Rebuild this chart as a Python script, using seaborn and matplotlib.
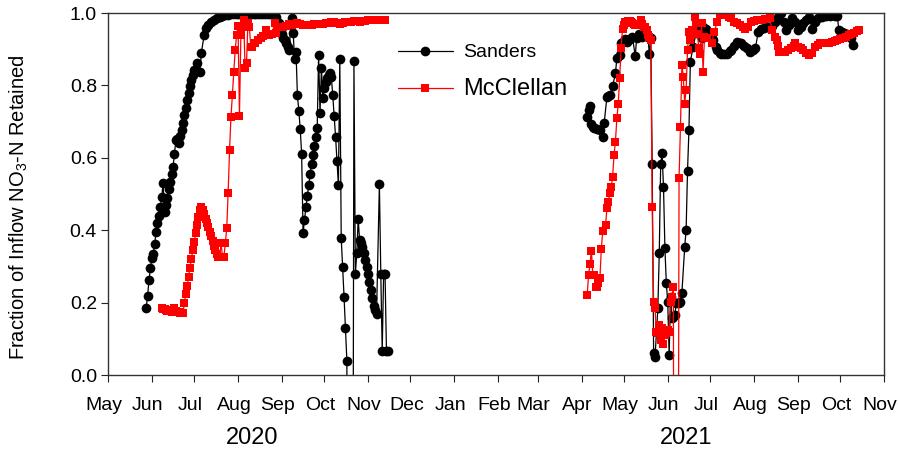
import numpy as np
import pandas as pd
import matplotlib
matplotlib.use("Agg")
import matplotlib.pyplot as plt
import matplotlib.dates as mdates
import matplotlib.transforms as mtrans
import seaborn as sns
from matplotlib.lines import Line2D
from matplotlib.transforms import blended_transform_factory

sns.set_theme(style="ticks")
plt.rcParams["font.family"] = ["Liberation Sans", "DejaVu Sans"]
plt.rcParams["mathtext.default"] = "regular"

# ---------------- data (day of year, fraction retained) ----------------
sanders_2020_doy = [149, 150, 151, 152, 153, 154, 155, 156, 157, 158, 159, 160, 161, 162, 163, 164,
                    165, 166, 167, 168, 169, 170, 171, 172, 173, 174, 175, 176, 177, 178, 179, 180,
                    181, 182, 183, 185, 187, 188, 190, 191, 193, 195, 197, 199, 201, 203, 205, 207,
                    209, 211, 213, 215, 217, 219, 221, 223, 225, 227, 229, 231, 233, 235, 237, 239,
                    241, 243, 244, 245, 246, 247, 248, 249, 250, 252, 253, 254, 255, 256, 257, 258,
                    259, 260, 261, 262, 263, 264, 265, 266, 267, 268, 269, 270, 271, 272, 273, 274,
                    275, 276, 277, 278, 279, 280, 281, 282, 283, 284, 285, 286, 287, 288, 289, 290,
                    291, 292, 294, 296, 297, 298, 299, 300, 301, 302, 303, 304, 305, 306, 307, 308,
                    309, 310, 311, 312, 314, 315, 316, 317, 318, 319, 320]
sanders_2020_val = [0.185, 0.218, 0.262, 0.295, 0.323, 0.334, 0.361, 0.395, 0.419, 0.439, 0.464, 0.492,
                    0.530, 0.450, 0.470, 0.489, 0.513, 0.534, 0.555, 0.575, 0.610, 0.649, 0.653, 0.641,
                    0.659, 0.677, 0.697, 0.718, 0.737, 0.760, 0.778, 0.797, 0.815, 0.829, 0.843, 0.861,
                    0.838, 0.889, 0.939, 0.958, 0.967, 0.975, 0.981, 0.986, 0.990, 0.992, 0.994, 0.995,
                    0.996, 0.997, 0.997, 0.997, 0.997, 0.997, 0.998, 0.998, 0.998, 0.998, 0.998, 0.998,
                    0.997, 0.997, 0.996, 0.994, 0.990, 0.971, 0.955, 0.943, 0.930, 0.925, 0.916, 0.905,
                    0.898, 0.985, 0.946, 0.872, 0.893, 0.773, 0.730, 0.679, 0.610, 0.392, 0.428, 0.463,
                    0.494, 0.525, 0.555, 0.583, 0.608, 0.633, 0.658, 0.682, 0.884, 0.725, 0.848, 0.765,
                    0.793, 0.810, 0.820, 0.829, 0.835, 0.824, 0.773, 0.715, 0.658, 0.591, 0.525, 0.872,
                    0.378, 0.299, 0.216, 0.130, 0.039, -3.0, -3.0, 0.867, 0.279, 0.336, 0.431, 0.373,
                    0.364, 0.354, 0.336, 0.318, 0.299, 0.279, 0.258, 0.235, 0.214, 0.191, 0.180, 0.168,
                    0.527, 0.279, 0.067, 0.279, 0.279, 0.067, 0.067]

sanders_2021_doy = [95, 96, 97, 98, 99, 100, 102, 104, 106, 107, 109, 110, 111, 113, 115, 116, 118, 119,
                    120, 122, 123, 124, 125, 127, 129, 130, 132, 134, 136, 138, 139, 140, 141, 142,
                    143, 145, 146, 147, 148, 149, 150, 151, 152, 153, 154, 155, 156, 157, 158, 160,
                    161, 162, 164, 165, 166, 167, 168, 170, 172, 174, 175, 176, 177, 179, 181, 183,
                    184, 186, 187, 189, 190, 192, 194, 196, 197, 199, 201, 203, 204, 206, 208, 210,
                    212, 214, 216, 218, 220, 222, 224, 226, 228, 230, 232, 234, 236, 238, 240, 242,
                    244, 246, 248, 250, 252, 254, 256, 258, 261, 264, 267, 270, 272, 273, 275, 277,
                    279, 281, 282, 283]
sanders_2021_val = [0.712, 0.733, 0.743, 0.693, 0.686, 0.682, 0.679, 0.677, 0.658, 0.695, 0.769, 0.772,
                    0.773, 0.798, 0.833, 0.875, 0.884, 0.916, 0.921, 0.927, 0.921, 0.925, 0.927, 0.935,
                    0.881, 0.930, 0.943, 0.934, 0.940, 0.935, 0.886, 0.930, 0.582, 0.062, 0.049, 0.184,
                    0.336, 0.582, 0.612, 0.520, 0.350, 0.253, 0.202, 0.055, 0.216, 0.157, 0.161, 0.166,
                    0.198, 0.198, 0.202, 0.226, 0.354, 0.401, 0.564, 0.677, 0.866, 0.907, 0.944, 0.953,
                    0.967, 0.930, 0.962, 0.955, 0.948, 0.930, 0.925, 0.905, 0.898, 0.890, 0.888, 0.888,
                    0.888, 0.895, 0.898, 0.910, 0.921, 0.918, 0.916, 0.910, 0.903, 0.893, 0.898, 0.902,
                    0.948, 0.957, 0.958, 0.960, 0.960, 0.965, 0.975, 0.990, 0.999, 0.976, 0.953, 0.967,
                    0.985, 0.976, 0.953, 0.962, 0.971, 0.980, 0.990, 0.957, 0.975, 0.985, 0.990, 0.992,
                    0.992, 0.992, 0.992, 0.953, 0.948, 0.945, 0.943, 0.935, 0.930, 0.912]

mcclellan_2020_doy = [160, 161, 162, 163, 164, 165, 166, 167, 168, 169, 170, 171, 172, 173, 174, 175,
                      176, 177, 178, 179, 180, 181, 182, 183, 184, 185, 186, 187, 188, 189, 190, 191,
                      192, 193, 194, 195, 196, 197, 198, 199, 200, 201, 202, 203, 204, 205, 206, 207,
                      208, 209, 210, 211, 212, 213, 214, 215, 216, 217, 218, 219, 220, 221, 222, 223,
                      224, 226, 228, 230, 232, 234, 235, 236, 238, 240, 241, 242, 244, 246, 248, 250,
                      252, 254, 256, 258, 260, 262, 264, 266, 268, 270, 272, 274, 276, 278, 280, 282,
                      284, 286, 288, 290, 292, 294, 296, 298, 300, 302, 304, 306, 308, 310, 312, 314,
                      316, 318]
mcclellan_2020_val = [0.184, 0.182, 0.181, 0.180, 0.178, 0.177, 0.176, 0.175, 0.180, 0.184, 0.178, 0.175,
                      0.173, 0.171, 0.170, 0.170, 0.198, 0.224, 0.246, 0.272, 0.296, 0.320, 0.345, 0.368,
                      0.391, 0.414, 0.437, 0.455, 0.465, 0.456, 0.445, 0.432, 0.420, 0.408, 0.396, 0.383,
                      0.370, 0.357, 0.345, 0.335, 0.327, 0.327, 0.364, 0.327, 0.327, 0.364, 0.405, 0.504,
                      0.622, 0.714, 0.773, 0.838, 0.898, 0.939, 0.964, 0.715, 0.939, 0.962, 0.982, 0.847,
                      0.863, 0.973, 0.962, 0.907, 0.905, 0.916, 0.925, 0.932, 0.936, 0.953, 0.938, 0.940,
                      0.943, 0.973, 0.945, 0.960, 0.962, 0.962, 0.965, 0.970, 0.968, 0.970, 0.971, 0.969,
                      0.968, 0.967, 0.967, 0.968, 0.969, 0.970, 0.970, 0.970, 0.971, 0.973, 0.976, 0.975,
                      0.972, 0.970, 0.972, 0.974, 0.975, 0.976, 0.977, 0.977, 0.976, 0.977, 0.978, 0.980,
                      0.980, 0.981, 0.981, 0.981, 0.981, 0.981]

mcclellan_2021_doy = [95, 96, 97, 98, 99, 100, 101, 102, 103, 104, 105, 106, 108, 109, 110, 111, 112,
                      113, 114, 115, 116, 117, 118, 119, 120, 121, 122, 123, 124, 125, 126, 127, 128,
                      129, 130, 131, 132, 133, 134, 135, 136, 137, 138, 139, 140, 141, 142, 143, 144,
                      145, 146, 147, 148, 149, 150, 151, 152, 153, 154, 155, 156, 157, 158, 160, 161,
                      162, 163, 164, 165, 166, 167, 168, 169, 171, 172, 173, 174, 175, 176, 177, 178,
                      180, 183, 185, 187, 189, 191, 193, 195, 197, 199, 201, 203, 205, 207, 209, 211,
                      213, 215, 217, 219, 221, 224, 226, 228, 229, 230, 231, 233, 235, 237, 239, 241,
                      242, 244, 246, 248, 250, 252, 254, 256, 258, 260, 262, 264, 266, 268, 270, 272,
                      274, 276, 278, 280, 282, 284, 286, 287]
mcclellan_2021_val = [0.221, 0.276, 0.307, 0.343, 0.276, 0.276, 0.242, 0.244, 0.255, 0.267, 0.347, 0.399,
                      0.414, 0.460, 0.479, 0.502, 0.520, 0.548, 0.608, 0.645, 0.709, 0.750, 0.821, 0.902,
                      0.957, 0.967, 0.975, 0.976, 0.978, 0.978, 0.975, 0.973, 0.970, 0.967, 0.967, 0.970,
                      0.970, 0.981, 0.970, 0.962, 0.960, 0.953, 0.940, 0.934, 0.925, 0.465, 0.202, 0.184,
                      0.120, 0.115, 0.138, 0.097, 0.129, 0.087, 0.110, 0.115, 0.124, 0.120, 0.202, 0.216,
                      0.244, -3.0, -3.0, 0.543, 0.686, 0.856, 0.824, 0.750, 0.787, 0.898, 0.948, 0.925,
                      0.953, 0.990, 0.971, 0.943, 0.902, 0.888, 0.971, 0.838, 0.934, 0.930, 0.916, 0.948,
                      0.976, 0.994, 0.994, 0.994, 0.988, 0.985, 0.976, 0.972, 0.967, 0.960, 0.957, 0.962,
                      0.976, 0.978, 0.981, 0.981, 0.981, 0.983, 0.985, 0.953, 0.935, 0.925, 0.910, 0.893,
                      0.893, 0.893, 0.897, 0.902, 0.910, 0.916, 0.907, 0.903, 0.898, 0.890, 0.884, 0.890,
                      0.907, 0.912, 0.916, 0.916, 0.916, 0.918, 0.921, 0.923, 0.925, 0.927, 0.930, 0.935,
                      0.939, 0.943, 0.946, 0.950, 0.953]

site_names = ["Sanders", "McClellan"]
year_labels = ["2020", "2021"]


def build(site, year, doy, val):
    dates = pd.to_datetime([f"{year}{int(d):03d}" for d in doy], format="%Y%j")
    return pd.DataFrame({"date": dates, "value": val, "site": site,
                         "segment": f"{site}-{year}"})


df = pd.concat([
    build("Sanders", 2020, sanders_2020_doy, sanders_2020_val),
    build("Sanders", 2021, sanders_2021_doy, sanders_2021_val),
    build("McClellan", 2020, mcclellan_2020_doy, mcclellan_2020_val),
    build("McClellan", 2021, mcclellan_2021_doy, mcclellan_2021_val),
], ignore_index=True)

# ---------------- figure ----------------
W, H = 898, 450
fig = plt.figure(figsize=(W / 100, H / 100), dpi=100)
ax = fig.add_axes([108 / W, 1 - 375 / H, 776 / W, 362 / H])

styles = {
    "Sanders": dict(color="black", marker="o", markersize=7.0, linewidth=0.9),
    "McClellan": dict(color="#ff0000", marker="s", markersize=5.3, linewidth=0.9),
}
for site in site_names:
    st = styles[site]
    sns.lineplot(data=df[df["site"] == site], x="date", y="value", units="segment",
                 estimator=None, ax=ax, legend=False, color=st["color"],
                 marker=st["marker"], markersize=st["markersize"],
                 markeredgewidth=0, linewidth=st["linewidth"])

ax.set_xlim(pd.Timestamp("2020-05-01"), pd.Timestamp("2021-11-01"))
ax.set_ylim(0, 1.0)
ax.xaxis.set_major_locator(mdates.MonthLocator())
ax.xaxis.set_major_formatter(mdates.DateFormatter("%b"))
ax.set_yticks(np.arange(0, 1.01, 0.2))
ax.set_yticklabels([f"{v:.1f}" for v in np.arange(0, 1.01, 0.2)])
ax.tick_params(direction="out", length=5, width=0.8, labelsize=14, colors="#222222",
               labelcolor="black", top=False, right=False)
ax.tick_params(axis="x", pad=11)
ax.tick_params(axis="y", pad=3)
shift = mtrans.ScaledTranslation(-4 / 100, 0, fig.dpi_scale_trans)
for lab in ax.get_xticklabels():
    lab.set_transform(lab.get_transform() + shift)
for s in ax.spines.values():
    s.set_visible(True)
    s.set_color("#333333")
    s.set_linewidth(1.0)
ax.set_xlabel("")
ax.set_ylabel("Fraction of Inflow NO$_3$-N Retained", fontsize=14.5, color="black")
ax.yaxis.set_label_coords(-0.1, 0.465)

trans = blended_transform_factory(ax.transData, ax.transAxes)
ax.text(mdates.date2num(pd.Timestamp("2020-08-11")), -0.175, year_labels[0],
        transform=trans, ha="center", va="center", fontsize=17, color="black")
ax.text(mdates.date2num(pd.Timestamp("2021-06-14")), -0.175, year_labels[1],
        transform=trans, ha="center", va="center", fontsize=17, color="black")

handles = [Line2D([0], [0], color=styles[s]["color"], marker=styles[s]["marker"],
                  markersize=styles[s]["markersize"], markeredgewidth=0,
                  linewidth=styles[s]["linewidth"]) for s in site_names]
leg = ax.legend(handles, site_names, loc="upper left", bbox_to_anchor=(0.374, 0.915),
                frameon=False, fontsize=14, handlelength=2.8, handletextpad=0.55,
                labelspacing=0.85, borderpad=0, borderaxespad=0)
for t in leg.get_texts():
    t.set_color("black")
leg.get_texts()[1].set_fontsize(17)

fig.savefig("out.png", dpi=100)
